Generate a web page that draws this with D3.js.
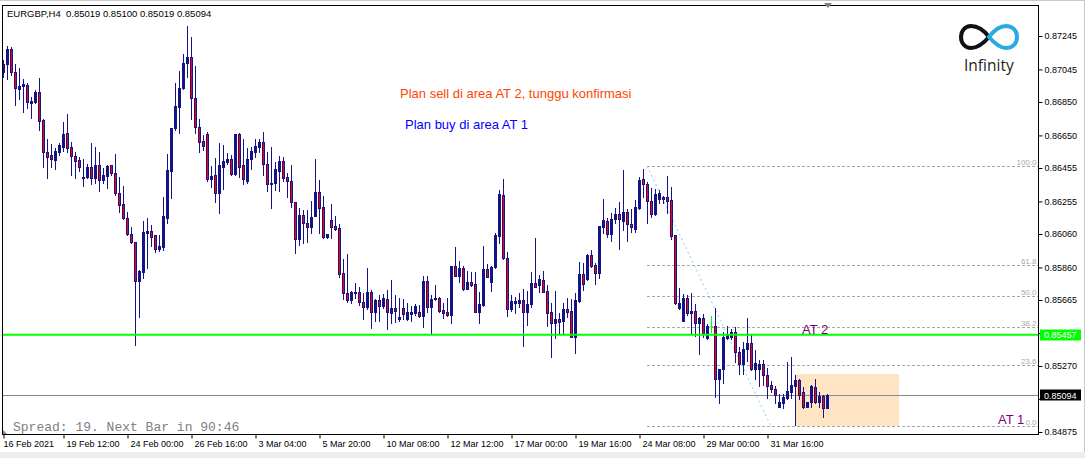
<!DOCTYPE html>
<html>
<head>
<meta charset="utf-8">
<script src="https://cdn.jsdelivr.net/npm/d3@7"></script>
<style>
body{margin:0;background:#fff}
text{font-family:"Liberation Sans",Arial,sans-serif}
</style>
</head>
<body>
<svg id="chart" width="1085" height="458"></svg>
<script>

// -----------------------------
// DATA (EURGBP H4)
// -----------------------------

const open = [
0.87031,0.87076,0.87165,0.87028,0.86930,0.86948,0.86950,0.86846,0.86852,0.86908,
0.86742,0.86549,0.86533,0.86503,0.86552,0.86583,0.86663,0.86579,0.86527,0.86503,
0.86397,0.86399,0.86461,0.86393,0.86471,0.86383,0.86409,0.86471,0.86423,0.86304,
0.86238,0.86154,0.86058,0.86010,0.85781,0.85834,0.86068,0.86078,0.86054,0.85972,
0.85984,0.86158,0.86439,0.86693,0.86822,0.86932,0.87082,0.87118,0.86872,0.86702,
0.86615,0.86657,0.86391,0.86413,0.86307,0.86463,0.86493,0.86509,0.86419,0.86657,
0.86473,0.86379,0.86507,0.86549,0.86583,0.86609,0.86477,0.86357,0.86363,0.86439,
0.86497,0.86399,0.86377,0.86250,0.86028,0.86174,0.86124,0.86100,0.86170,0.86310,
0.86220,0.86044,0.86144,0.86108,0.86094,0.85825,0.85705,0.85665,0.85705,0.85711,
0.85655,0.85621,0.85711,0.85595,0.85665,0.85631,0.85671,0.85589,0.85615,0.85553,
0.85615,0.85553,0.85581,0.85589,0.85591,0.85571,0.85779,0.85625,0.85669,0.85679,
0.85605,0.85593,0.85575,0.85868,0.85810,0.85858,0.85731,0.85775,0.85761,0.85595,
0.85635,0.85851,0.85775,0.85861,0.86050,0.86293,0.85915,0.85609,0.85649,0.85649,
0.85665,0.85595,0.85639,0.85765,0.85755,0.85785,0.85719,0.85591,0.85526,0.85551,
0.85541,0.85611,0.85599,0.85445,0.85661,0.85821,0.85789,0.85934,0.85874,0.85828,
0.86104,0.86138,0.86058,0.86150,0.86180,0.86140,0.86190,0.86120,0.86088,0.86217,
0.86387,0.86359,0.86259,0.86178,0.86268,0.86283,0.86280,0.86263,0.86054,0.85619,
0.85541,0.85679,0.85585,0.85599,0.85529,0.85555,0.85436,0.85511,0.85511,0.85190,
0.85250,0.85436,0.85442,0.85472,0.85352,0.85282,0.85372,0.85409,0.85250,0.85250,
0.85280,0.85216,0.85156,0.85131,0.85026,0.85050,0.85080,0.85116,0.85150,0.85186,
0.85113,0.85026,0.85056,0.85143,0.85056,0.85090,0.85019]

const high = [
0.87101,0.87185,0.87181,0.87077,0.87053,0.86988,0.86965,0.86878,0.86922,0.86994,
0.86746,0.86628,0.86599,0.86573,0.86606,0.86730,0.86778,0.86609,0.86549,0.86523,
0.86507,0.86479,0.86603,0.86581,0.86552,0.86453,0.86471,0.86475,0.86539,0.86403,
0.86349,0.86193,0.86100,0.86014,0.85845,0.86138,0.86154,0.86114,0.86056,0.86054,
0.86283,0.86539,0.86696,0.86965,0.87036,0.87137,0.87305,0.87241,0.87065,0.86748,
0.86652,0.86669,0.86467,0.86517,0.86603,0.86593,0.86543,0.86533,0.86658,0.86663,
0.86628,0.86573,0.86583,0.86628,0.86628,0.86670,0.86549,0.86579,0.86489,0.86527,
0.86519,0.86423,0.86473,0.86253,0.86214,0.86204,0.86204,0.86258,0.86507,0.86383,
0.86287,0.86060,0.86240,0.86168,0.86118,0.85909,0.85940,0.85719,0.85765,0.85745,
0.85705,0.85855,0.85725,0.85669,0.85695,0.85701,0.85725,0.85785,0.85695,0.85679,
0.85669,0.85645,0.85631,0.85641,0.85635,0.85809,0.85809,0.85695,0.85755,0.85685,
0.85649,0.85679,0.85870,0.85980,0.85900,0.85868,0.85839,0.85833,0.85831,0.85713,
0.85988,0.85880,0.85868,0.86064,0.86323,0.86387,0.85954,0.85695,0.85685,0.85705,
0.85729,0.85719,0.85833,0.86038,0.85815,0.85839,0.85755,0.85645,0.85719,0.85589,
0.85645,0.85675,0.85671,0.85705,0.85891,0.85885,0.85940,0.85964,0.85888,0.86110,
0.86269,0.86154,0.86184,0.86214,0.86253,0.86443,0.86208,0.86208,0.86263,0.86403,
0.86449,0.86369,0.86334,0.86328,0.86323,0.86287,0.86407,0.86340,0.86056,0.85739,
0.85699,0.85695,0.85705,0.85641,0.85565,0.85579,0.85521,0.85569,0.85615,0.85254,
0.85475,0.85509,0.85490,0.85505,0.85386,0.85415,0.85555,0.85455,0.85366,0.85306,
0.85306,0.85256,0.85180,0.85150,0.85102,0.85102,0.85296,0.85326,0.85216,0.85190,
0.85143,0.85056,0.85156,0.85190,0.85113,0.85096,0.85100]

const low = [
0.86998,0.86986,0.87012,0.86832,0.86868,0.86792,0.86812,0.86756,0.86842,0.86682,
0.86463,0.86397,0.86463,0.86449,0.86533,0.86559,0.86552,0.86413,0.86393,0.86439,
0.86347,0.86397,0.86359,0.86367,0.86319,0.86367,0.86337,0.86413,0.86293,0.86193,
0.86152,0.86054,0.86008,0.85396,0.85565,0.85795,0.85855,0.85988,0.85954,0.85960,
0.85964,0.86124,0.86274,0.86682,0.86663,0.86928,0.87001,0.86748,0.86663,0.86552,
0.86563,0.86379,0.86343,0.86253,0.86187,0.86329,0.86479,0.86413,0.86413,0.86403,
0.86359,0.86367,0.86449,0.86519,0.86552,0.86413,0.86319,0.86214,0.86323,0.86317,
0.86379,0.86280,0.86223,0.85948,0.85994,0.86004,0.86014,0.86064,0.86168,0.86064,
0.86034,0.86036,0.86034,0.86084,0.85804,0.85669,0.85655,0.85649,0.85675,0.85635,
0.85549,0.85609,0.85496,0.85541,0.85541,0.85615,0.85490,0.85526,0.85535,0.85541,
0.85549,0.85545,0.85541,0.85575,0.85561,0.85505,0.85595,0.85469,0.85665,0.85595,
0.85559,0.85571,0.85529,0.85809,0.85775,0.85725,0.85729,0.85749,0.85591,0.85529,
0.85631,0.85801,0.85721,0.85855,0.86004,0.85913,0.85571,0.85601,0.85589,0.85625,
0.85391,0.85515,0.85625,0.85741,0.85715,0.85711,0.85509,0.85322,0.85436,0.85469,
0.85466,0.85565,0.85443,0.85346,0.85655,0.85725,0.85785,0.85864,0.85759,0.85798,
0.86068,0.86040,0.86020,0.86128,0.85968,0.86084,0.86020,0.86074,0.86074,0.86208,
0.86283,0.86128,0.86164,0.86174,0.86247,0.86244,0.86184,0.86028,0.85641,0.85609,
0.85539,0.85575,0.85469,0.85450,0.85342,0.85442,0.85434,0.85475,0.85086,0.85047,
0.85170,0.85434,0.85430,0.85296,0.85222,0.85222,0.85302,0.85246,0.85190,0.85150,
0.85156,0.85077,0.85116,0.85050,0.85023,0.85017,0.85072,0.85077,0.84917,0.85071,
0.85017,0.85023,0.85023,0.85050,0.85023,0.84967,0.85019]

const close = [
0.87077,0.87165,0.87028,0.86932,0.86946,0.86960,0.86852,0.86856,0.86910,0.86738,
0.86552,0.86523,0.86511,0.86557,0.86591,0.86657,0.86577,0.86529,0.86499,0.86463,
0.86403,0.86461,0.86393,0.86471,0.86383,0.86413,0.86467,0.86423,0.86304,0.86232,
0.86154,0.86058,0.86010,0.85781,0.85840,0.86072,0.86080,0.86044,0.85972,0.85988,
0.86168,0.86443,0.86693,0.86826,0.86932,0.87082,0.87118,0.86872,0.86702,0.86612,
0.86588,0.86391,0.86407,0.86307,0.86473,0.86497,0.86509,0.86421,0.86657,0.86463,
0.86387,0.86507,0.86557,0.86587,0.86609,0.86477,0.86357,0.86367,0.86447,0.86497,
0.86393,0.86375,0.86250,0.86028,0.86174,0.86124,0.86100,0.86164,0.86310,0.86214,
0.86044,0.86058,0.86104,0.86092,0.85821,0.85705,0.85665,0.85711,0.85715,0.85655,
0.85621,0.85711,0.85595,0.85665,0.85631,0.85675,0.85591,0.85615,0.85601,0.85565,
0.85581,0.85591,0.85591,0.85629,0.85571,0.85779,0.85625,0.85669,0.85679,0.85601,
0.85589,0.85575,0.85868,0.85810,0.85858,0.85729,0.85775,0.85755,0.85595,0.85641,
0.85851,0.85804,0.85861,0.86054,0.86299,0.85915,0.85609,0.85659,0.85659,0.85665,
0.85595,0.85641,0.85765,0.85745,0.85791,0.85715,0.85589,0.85529,0.85551,0.85535,
0.85609,0.85595,0.85445,0.85665,0.85821,0.85759,0.85934,0.85870,0.85828,0.86108,
0.86144,0.86058,0.86150,0.86178,0.86148,0.86190,0.86118,0.86100,0.86220,0.86383,
0.86357,0.86259,0.86178,0.86299,0.86304,0.86268,0.86259,0.86050,0.85645,0.85649,
0.85679,0.85585,0.85599,0.85529,0.85559,0.85462,0.85511,0.85511,0.85190,0.85252,
0.85442,0.85455,0.85472,0.85352,0.85282,0.85370,0.85409,0.85250,0.85286,0.85282,
0.85216,0.85152,0.85131,0.85096,0.85056,0.85083,0.85122,0.85156,0.85186,0.85096,
0.85026,0.85053,0.85150,0.85056,0.85090,0.85017,0.85094]

const timeTickBars = [1,16,32,48,64,80,96,112,128,144,160,176,192]
const timeTickLabels = ["16 Feb 2021","19 Feb 12:00","24 Feb 00:00","26 Feb 16:00","3 Mar 04:00",
"5 Mar 20:00","10 Mar 08:00","12 Mar 12:00","17 Mar 00:00","19 Mar 16:00",
"24 Mar 08:00","29 Mar 00:00","31 Mar 16:00"]

// the last two of these sit under the price boxes
const priceTicks = [0.87245,0.87045,0.86850,0.86650,0.86455,0.86255,0.86060,
0.85860,0.85665,0.85270,0.84875]
const hiddenTicks = [0.85465,0.85070]

const fibLevels = [0,23.6,38.2,50,61.8,100,161.8]
const fibBars = [162,193]
const fibPrices = [0.86467,0.84909]

const zoneBars = [199,225]
const zonePrices = [0.85222,0.84911]

const levelPrice = 0.85457
const lastPrice = 0.85094
const header = "EURGBP,H4  0.85019 0.85100 0.85019 0.85094"


// -----------------------------
// SETUP
// -----------------------------

const svg = d3.select("#chart")
const navy = "#141486"
const red = "#ff0000"
const lime = "#00ff00"
const sans = "'Liberation Sans',Arial,sans-serif"

const plot = {left:2,top:5,right:1038,bottom:434}

const x = d3.scaleLinear()
.domain([1,207])
.range([3,827])

const y = d3.scaleLinear()
.domain([0.84875,0.87245])
.range([432,36])

const py = p=>Math.round(y(p))

svg.append("defs").append("clipPath").attr("id","clip")
.append("rect")
.attr("x",plot.left+1).attr("y",plot.top+1)
.attr("width",plot.right-plot.left-1).attr("height",plot.bottom-plot.top-1)

// window frame bits
svg.append("rect").attr("x",0).attr("y",0).attr("width",1085).attr("height",1).attr("fill","#c8c8c8")
svg.append("rect").attr("x",0).attr("y",452).attr("width",1085).attr("height",6).attr("fill","#ededed")
svg.append("rect").attr("x",1084).attr("y",0).attr("width",1).attr("height",452).attr("fill","#c8c8c8")

const inner = svg.append("g").attr("clip-path","url(#clip)")


// ZONE RECTANGLE (background)

inner.append("rect")
.attr("x",x(zoneBars[0]))
.attr("width",x(zoneBars[1])-x(zoneBars[0]))
.attr("y",py(zonePrices[0]))
.attr("height",py(zonePrices[1])-py(zonePrices[0]))
.attr("fill","#ffe4c4")


// FIBONACCI

const fibY = l=>y(fibPrices[1]+(fibPrices[0]-fibPrices[1])*l/100)

inner.selectAll("line.fib")
.data(fibLevels)
.enter()
.append("line")
.attr("x1",x(fibBars[0]))
.attr("x2",plot.right)
.attr("y1",d=>Math.round(fibY(d))+0.5)
.attr("y2",d=>Math.round(fibY(d))+0.5)
.attr("stroke","#a8a8a8")
.attr("stroke-dasharray","3,2")

// labels only where they fit inside the plot
svg.selectAll("text.fib")
.data(fibLevels.filter(l=>fibY(l)-9>plot.top))
.enter()
.append("text")
.attr("x",plot.right-1.5)
.attr("y",d=>Math.round(fibY(d))-1.5)
.attr("text-anchor","end")
.attr("font-size","8px")
.attr("fill","#a9a9a9")
.text(d=>d.toFixed(1))

inner.append("line")
.attr("x1",x(fibBars[0])).attr("y1",y(fibPrices[0]))
.attr("x2",x(fibBars[1])).attr("y2",y(fibPrices[1]))
.attr("stroke","#87cefa")
.attr("stroke-dasharray","2,3")


// BID LINE

inner.append("line")
.attr("x1",plot.left).attr("x2",plot.right)
.attr("y1",py(lastPrice)+0.5).attr("y2",py(lastPrice)+0.5)
.attr("stroke","#7f8a96")


// CANDLES

const bars = open.map((o,i)=>({i:i+1,o:o,h:high[i],l:low[i],c:close[i]}))

const cg = inner.append("g").attr("shape-rendering","crispEdges")

cg.selectAll("line.wick")
.data(bars)
.enter()
.append("line")
.attr("x1",d=>x(d.i)+0.5)
.attr("x2",d=>x(d.i)+0.5)
.attr("y1",d=>py(d.h))
.attr("y2",d=>py(d.l)+1)
.attr("stroke",d=>d.o===d.c?lime:navy)

const bodies = bars.filter(d=>d.o!==d.c)

cg.selectAll("rect.body")
.data(bodies)
.enter()
.append("rect")
.attr("x",d=>x(d.i)-1)
.attr("width",3)
.attr("y",d=>py(Math.max(d.o,d.c)))
.attr("height",d=>Math.max(1,py(Math.min(d.o,d.c))-py(Math.max(d.o,d.c))+1))
.attr("fill",navy)

cg.selectAll("rect.bear")
.data(bodies.filter(d=>d.c<d.o && py(d.c)-py(d.o)>=2))
.enter()
.append("rect")
.attr("x",d=>x(d.i))
.attr("width",1)
.attr("y",d=>py(d.o)+1)
.attr("height",d=>py(d.c)-py(d.o)-1)
.attr("fill",red)

cg.selectAll("line.doji")
.data(bars.filter(d=>d.o===d.c))
.enter()
.append("line")
.attr("x1",d=>x(d.i)-1)
.attr("x2",d=>x(d.i)+2)
.attr("y1",d=>py(d.o)+0.5)
.attr("y2",d=>py(d.o)+0.5)
.attr("stroke",lime)


// HORIZONTAL LEVEL (AT 2)

inner.append("line")
.attr("x1",plot.left).attr("x2",plot.right)
.attr("y1",y(levelPrice)).attr("y2",y(levelPrice))
.attr("stroke",lime)
.attr("stroke-width",2)


// LABELS ON THE CHART

svg.append("text")
.attr("x",802).attr("y",333.5)
.attr("font-size","13px").attr("fill","#800080")
.text("AT 2")

svg.append("text")
.attr("x",998).attr("y",423.5)
.attr("font-size","13px").attr("fill","#800080")
.text("AT 1")

svg.append("text")
.attr("x",400).attr("y",98)
.attr("font-size","13px").attr("fill","#ff4500")
.text("Plan sell di area AT 2, tunggu konfirmasi")

svg.append("text")
.attr("x",405).attr("y",129)
.attr("font-size","13px").attr("fill","#0000ff")
.text("Plan buy di area AT 1")

svg.append("text")
.attr("x",7).attr("y",17)
.attr("font-size","9.5px").attr("fill","#000")
.style("white-space","pre")
.text(header)

svg.append("text")
.attr("x",13).attr("y",431)
.style("font-family","'Liberation Mono','Courier New',monospace")
.attr("font-size","13px").attr("fill","#808080")
.style("white-space","pre")
.text("Spread: 19. Next Bar in 90:46")

svg.append("path")
.attr("d","M3,430L7,434L3,434Z")
.attr("fill","#8c8c8c")


// LOGO

const logo = svg.append("g").attr("fill","none").attr("stroke-width",4).attr("stroke-linecap","round")
logo.append("path")
.attr("d","M989,37C983,29 977,26 971,26C965,26 961,31 961,37C961,43 965,48 971,48C977,48 983,44 989,37")
.attr("stroke","#111")
logo.append("path")
.attr("d","M989,37C995,29 1000,26 1006,26C1013,26 1017,31 1017,37C1017,43 1013,48 1006,48C1000,48 995,44 989,37")
.attr("stroke","#29abe2")
svg.append("text")
.attr("x",964).attr("y",71)
.style("font-family","'Open Sans',sans-serif")
.attr("font-size","15.5px").attr("fill","#231f20")
.text("Infinity")


// FRAME

svg.append("rect")
.attr("x",plot.left+0.5).attr("y",plot.top+0.5)
.attr("width",plot.right-plot.left).attr("height",plot.bottom-plot.top)
.attr("fill","none").attr("stroke","#000")
.attr("shape-rendering","crispEdges")

svg.append("path")
.attr("d","M824,3L832,3L828,8Z")
.attr("fill","#808080")


// AXES

const yAxis = svg.append("g")
.attr("transform",`translate(${plot.right+0.5},0)`)
.call(d3.axisRight(y).tickValues(priceTicks).tickFormat(d3.format(".5f")).tickSize(4).tickPadding(2))
yAxis.select(".domain").remove()
yAxis.selectAll("line").attr("stroke","#000")
yAxis.selectAll("text").attr("font-size","9px").style("font-family",sans).attr("fill","#000")

svg.selectAll("line.hidden")
.data(hiddenTicks)
.enter()
.append("line")
.attr("x1",plot.right+0.5).attr("x2",plot.right+4.5)
.attr("y1",d=>y(d)).attr("y2",d=>y(d))
.attr("stroke","#000")

const xAxis = svg.append("g")
.attr("transform",`translate(0,${plot.bottom+0.5})`)
.call(d3.axisBottom(x).tickValues(timeTickBars).tickFormat((d,i)=>timeTickLabels[i]).tickSize(4).tickPadding(2))
xAxis.select(".domain").remove()
xAxis.selectAll(".tick line").attr("stroke","#000").attr("transform","translate(0.5,0)")
xAxis.selectAll("text")
.attr("text-anchor","start")
.attr("x",(d,i)=>i===0?0:3)
.attr("font-size","9px").style("font-family",sans).attr("fill","#000")


// PRICE LABEL BOXES

function priceBox(p,bg){
const cy = y(p)
svg.append("rect")
.attr("x",1040).attr("y",Math.round(cy)-5.5)
.attr("width",41).attr("height",11)
.attr("fill",bg)
svg.append("text")
.attr("x",1044).attr("y",cy).attr("dy","0.35em")
.attr("font-size","9px").attr("fill","#fff")
.text(d3.format(".5f")(p))
}

priceBox(levelPrice,lime)
priceBox(lastPrice,"#000")

</script>
</body>
</html>
